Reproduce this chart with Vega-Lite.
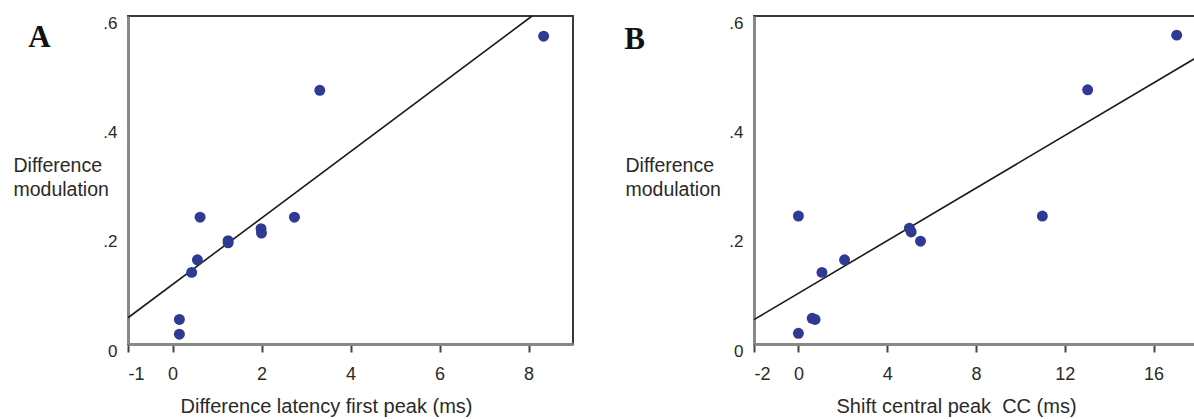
{
  "$schema": "https://vega.github.io/schema/vega-lite/v6.json",
  "background": "white",
  "padding": {"left": 12, "top": 11, "right": 0, "bottom": 0},
  "spacing": 49,
  "datasets": {
    "pointsA": [
      {"latency": 8.34, "modulation": 0.563},
      {"latency": 3.31, "modulation": 0.464},
      {"latency": 0.62, "modulation": 0.232},
      {"latency": 2.74, "modulation": 0.232},
      {"latency": 1.99, "modulation": 0.211},
      {"latency": 2.0, "modulation": 0.203},
      {"latency": 1.25, "modulation": 0.189},
      {"latency": 1.25, "modulation": 0.185},
      {"latency": 0.56, "modulation": 0.154},
      {"latency": 0.43, "modulation": 0.131},
      {"latency": 0.155, "modulation": 0.045},
      {"latency": 0.155, "modulation": 0.018}
    ],
    "lineA": [
      {"latency": -1, "modulation": 0.048},
      {"latency": 8.08, "modulation": 0.6}
    ],
    "pointsB": [
      {"shift": 17.04, "modulation": 0.565},
      {"shift": 13.03, "modulation": 0.465},
      {"shift": 10.99, "modulation": 0.234},
      {"shift": 0.0, "modulation": 0.234},
      {"shift": 5.0, "modulation": 0.212},
      {"shift": 5.08, "modulation": 0.205},
      {"shift": 5.5, "modulation": 0.188},
      {"shift": 2.08, "modulation": 0.154},
      {"shift": 1.06, "modulation": 0.131},
      {"shift": 0.62, "modulation": 0.047},
      {"shift": 0.75, "modulation": 0.045},
      {"shift": 0.0, "modulation": 0.0195}
    ],
    "lineB": [
      {"shift": -2, "modulation": 0.0446},
      {"shift": 17.97, "modulation": 0.525}
    ],
    "letterA": [{"label": "A"}],
    "letterB": [{"label": "B"}]
  },
  "config": {
    "font": "Liberation Sans",
    "view": {"stroke": "#3a3a3a", "strokeWidth": 2},
    "axis": {
      "domainColor": "#888888",
      "domainWidth": 3,
      "grid": false,
      "labelColor": "#2a2a2a",
      "titleColor": "#2a2a2a",
      "titleFontWeight": "normal",
      "zindex": 1
    },
    "axisX": {
      "tickColor": "#444444",
      "tickWidth": 2,
      "tickSize": 8,
      "labelFontSize": 18,
      "labelPadding": 13,
      "labelBaseline": "top",
      "labelExpr": "'' + datum.value",
      "titleFontSize": 20,
      "titleAlign": "left",
      "titleBaseline": "alphabetic",
      "titleY": 68
    },
    "axisY": {
      "ticks": false,
      "labelFontSize": 17,
      "labelPadding": 11,
      "labelOffset": 7,
      "labelExpr": "datum.value == 0 ? '0' : replace(format(datum.value, '.1f'), '0.', '.')",
      "titleFontSize": 19.5,
      "titleAngle": 0,
      "titleAlign": "left",
      "titleBaseline": "alphabetic",
      "titleY": 155,
      "titleLineHeight": 24
    }
  },
  "hconcat": [
    {
      "width": 445,
      "height": 328,
      "layer": [
        {
          "data": {"name": "lineA"},
          "mark": {"type": "line", "color": "#1a1a1a", "strokeWidth": 1.6},
          "encoding": {
            "x": {"field": "latency", "type": "quantitative", "scale": {"domain": [-1, 9], "nice": false, "zero": false}},
            "y": {"field": "modulation", "type": "quantitative", "scale": {"domain": [0, 0.6], "nice": false}}
          }
        },
        {
          "data": {"name": "pointsA"},
          "mark": {"type": "circle", "size": 120, "color": "#2e3a94", "opacity": 1},
          "encoding": {
            "x": {
              "field": "latency", "type": "quantitative",
              "axis": {"values": [-1, 0, 2, 4, 6, 8], "title": "Difference latency first peak (ms)", "titleX": 52}
            },
            "y": {
              "field": "modulation", "type": "quantitative",
              "axis": {"values": [0, 0.2, 0.4, 0.6], "title": ["Difference", "modulation"], "titleX": -115}
            }
          }
        },
        {
          "data": {"name": "letterA"},
          "mark": {"type": "text", "font": "Liberation Serif", "fontWeight": "bold", "fontSize": 31, "color": "#111111", "align": "center", "baseline": "alphabetic"},
          "encoding": {
            "x": {"datum": -2.99},
            "y": {"datum": 0.543},
            "text": {"field": "label"}
          }
        }
      ]
    },
    {
      "width": 444,
      "height": 328,
      "layer": [
        {
          "data": {"name": "lineB"},
          "mark": {"type": "line", "color": "#1a1a1a", "strokeWidth": 1.6},
          "encoding": {
            "x": {"field": "shift", "type": "quantitative", "scale": {"domain": [-2, 18], "nice": false, "zero": false}},
            "y": {"field": "modulation", "type": "quantitative", "scale": {"domain": [0, 0.6], "nice": false}}
          }
        },
        {
          "data": {"name": "pointsB"},
          "mark": {"type": "circle", "size": 120, "color": "#2e3a94", "opacity": 1},
          "encoding": {
            "x": {
              "field": "shift", "type": "quantitative",
              "axis": {"values": [-2, 0, 4, 8, 12, 16], "title": "Shift central peak\u00a0 CC (ms)", "titleX": 82}
            },
            "y": {
              "field": "modulation", "type": "quantitative",
              "axis": {"values": [0, 0.2, 0.4, 0.6], "title": ["Difference", "modulation"], "titleX": -129}
            }
          }
        },
        {
          "data": {"name": "letterB"},
          "mark": {"type": "text", "font": "Liberation Serif", "fontWeight": "bold", "fontSize": 31, "color": "#111111", "align": "center", "baseline": "alphabetic"},
          "encoding": {
            "x": {"datum": -7.38},
            "y": {"datum": 0.54},
            "text": {"field": "label"}
          }
        }
      ]
    }
  ]
}
